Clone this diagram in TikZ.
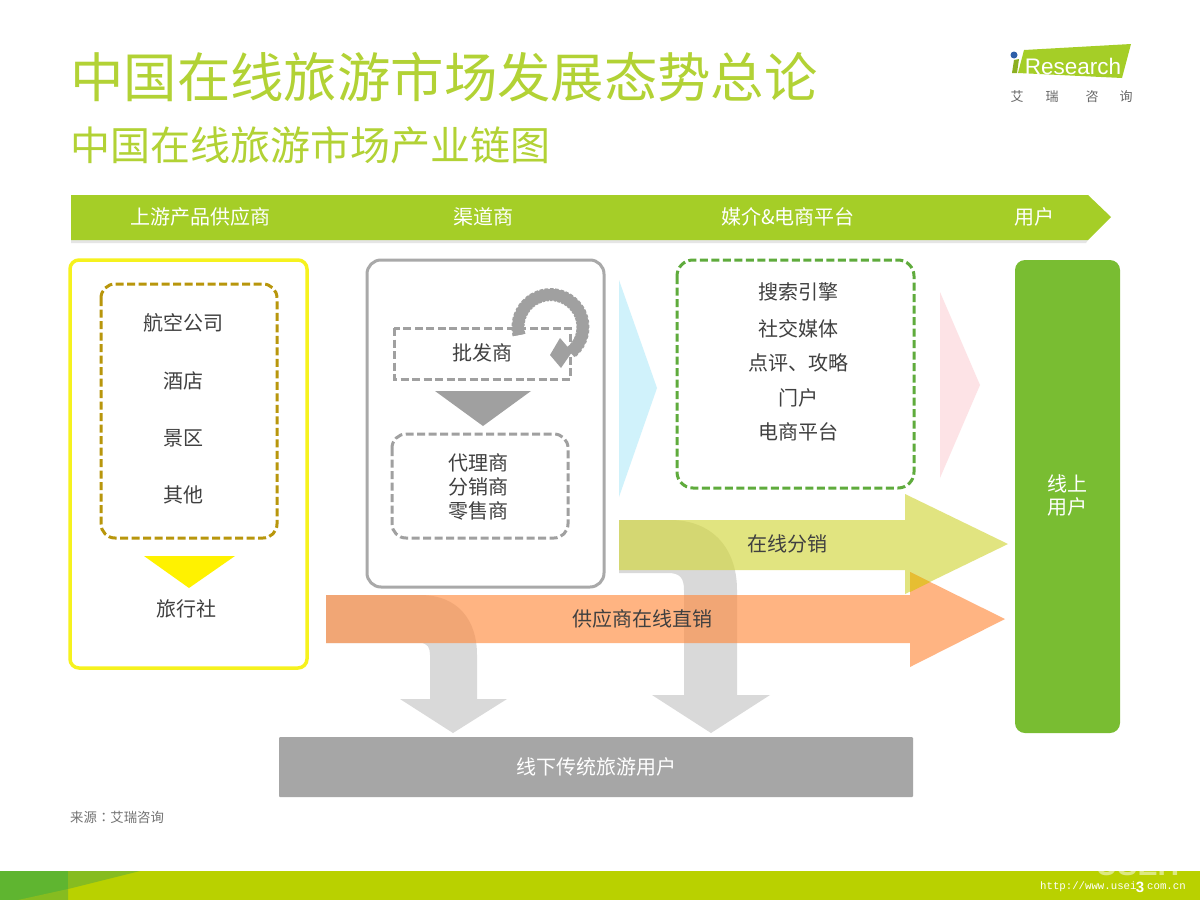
\documentclass[tikz,border=0pt]{standalone}
\usepackage{fontspec}
\setmainfont{Noto Sans CJK SC}
\newfontfamily\tcfont{Noto Sans CJK TC}
\newfontfamily\latinfont{Liberation Sans}
\newfontfamily\monofont{Liberation Mono}
\definecolor{titlegreen}{HTML}{B2D235}
\definecolor{barcol}{HTML}{A5CE27}
\definecolor{usergreen}{HTML}{79BD32}
\definecolor{bandcol}{HTML}{B9D100}
\definecolor{banddark}{HTML}{5FB530}
\definecolor{bandmid}{HTML}{86BC20}
\definecolor{txt}{HTML}{404040}
\definecolor{boxgray}{HTML}{A9A9A9}
\definecolor{dashgray}{HTML}{A0A0A0}
\definecolor{ylw}{HTML}{F6F21E}
\definecolor{gold}{HTML}{B8960C}
\definecolor{dgreen}{HTML}{5FAB3C}
\definecolor{arrowgray}{HTML}{D9D9D9}
\definecolor{arrowyellow}{RGB}{210,214,60}
\definecolor{arroworange}{RGB}{255,140,64}
\definecolor{lightcyan}{HTML}{D0F2FB}
\definecolor{lightpink}{HTML}{FDE3E6}
\definecolor{logoblue}{HTML}{2F5FA8}
\definecolor{overlapgold}{HTML}{E6BE32}
\tikzset{
 fs/.style={font=\fontsize{#1}{#1}\selectfont},
 lab/.style={fs=20,text=txt,inner sep=0pt,align=center},
 wlab/.style={fs=20,text=white,inner sep=0pt,align=center},
 dashbox/.style={line width=3pt,dash pattern=on 8pt off 3.5pt},
}
\begin{document}
\begin{tikzpicture}[x=1pt,y=-1pt]
\useasboundingbox (0,0) rectangle (1200,900);
\fill[white] (0,0) rectangle (1200,900);
% title
\node[fs=53.4,text=titlegreen,anchor=west,inner sep=0pt] (title) at (70,77) {中国在线旅游市场发展态势总论};
\node[fs=40,text=titlegreen,anchor=west,inner sep=0pt] (subtitle) at (70,145) {中国在线旅游市场产业链图};
% logo
\fill[barcol] (1024,50) -- (1131,44) -- (1122,78) -- (1018,73) -- cycle;
\fill[barcol!85!black] (1012,73) -- (1014,60) -- (1019,59) -- (1017,73) -- cycle;
\fill[logoblue] (1014,55) circle (3.5);
\node[text=white,inner sep=0pt,font=\latinfont\fontsize{22.5}{22.5}\selectfont] (logotext) at (1073,66) {Research};
\foreach \n/\x/\t in {la/1017/艾,lb/1052/瑞,lc/1092/咨,ld/1126/询}
  \node[fs=13,text=txt!80,inner sep=0pt] (\n) at (\x,97) {\t};
% header bar
\fill[black!10] (71,240) -- (1088,240) -- (1086,243) -- (71,243) -- cycle;
\fill[barcol] (71,195) -- (1088,195) -- (1111,217) -- (1088,240) -- (71,240) -- cycle;
\node[wlab] (h1) at (200,217) {上游产品供应商};
\node[wlab] (h2) at (483,217) {渠道商};
\node[wlab] (h3) at (788,217) {媒介\&电商平台};
\node[wlab] (h4) at (1034,217) {用户};
% left box
\draw[ylw,line width=3.5pt,rounded corners=9pt,fill=white] (70,260) rectangle (307,668);
\draw[gold,dashbox,rounded corners=14pt] (101,284) rectangle (277,538);
\node[lab] (a1) at (183,323) {航空公司};
\node[lab] (a2) at (183,381) {酒店};
\node[lab] (a3) at (183,438) {景区};
\node[lab] (a4) at (183,495) {其他};
\fill[yellow] (144,556) -- (235,556) -- (189,588) -- cycle;
\node[lab] (a5) at (186,609) {旅行社};
% middle box
\draw[boxgray,line width=3pt,rounded corners=14pt] (367,260) rectangle (604,587);
\draw[dashgray,dashbox] (394,328) rectangle (570,379);
\node[lab] (b1) at (482,353) {批发商};
\fill[dashgray] (435,391) -- (531,391) -- (483,426) -- cycle;
\draw[dashgray,dashbox,rounded corners=14pt] (392,434) rectangle (568,538);
\node[lab] (b2) at (478,463) {代理商};
\node[lab] (b3) at (478,487) {分销商};
\node[lab] (b4) at (478,511) {零售商};
% circular arrow
\draw[dashgray,line width=11.5pt] (519,335) arc[start angle=194,end angle=-52,radius=32.5pt];
\draw[dashgray,line width=13pt,dash pattern=on 3pt off 1.5pt] (519,335) arc[start angle=194,end angle=-52,radius=32.5pt];
\fill[dashgray] (560,338) -- (572,352) -- (561,368) -- (550,355) -- cycle;
% triangles
\fill[lightcyan] (619,280) -- (657,388) -- (619,497) -- cycle;
\fill[lightpink] (940,292) -- (980,385) -- (940,478) -- cycle;
% media box
\draw[dgreen,dashbox,rounded corners=16pt] (677,260) rectangle (914,488);
\node[lab] (c1) at (798,292) {搜索引擎};
\node[lab] (c2) at (798,329) {社交媒体};
\node[lab] (c3) at (798,363) {点评、攻略};
\node[lab] (c4) at (798,398) {门户};
\node[lab] (c5) at (798,432) {电商平台};
% online user
\fill[usergreen,rounded corners=10pt] (1015,260) rectangle (1120,733);
\node[wlab] (d1) at (1067,484) {线上};
\node[wlab] (d2) at (1067,507) {用户};
% gray arrows
\fill[arrowgray] (619,520) -- (670,520) .. controls (712,520) and (737,548) .. (737,590) -- (737,695) -- (770,695) -- (711,733) -- (652,695) -- (684,695) -- (684,590) .. controls (684,578) and (680,573) .. (668,573) -- (619,573) -- cycle;
\fill[arrowgray] (326,595) -- (420,595) .. controls (458,595) and (477,620) .. (477,655) -- (477,699) -- (507,699) -- (453,733) -- (400,699) -- (430,699) -- (430,655) .. controls (430,648) and (428,643) .. (420,643) -- (326,643) -- cycle;
% colored arrows
\fill[arrowyellow,opacity=.65] (619,520) -- (905,520) -- (905,494) -- (1008,544) -- (905,594) -- (905,570) -- (619,570) -- cycle;
\fill[arroworange,opacity=.65] (326,595) -- (910,595) -- (910,572) -- (1005,619) -- (910,667) -- (910,643) -- (326,643) -- cycle;
\fill[overlapgold] (910,572) -- (930,582) -- (910,592) -- cycle;
\node[lab] (e1) at (787,544) {在线分销};
\node[lab] (e2) at (642,619) {供应商在线直销};
% offline bar
\fill[black!35,rounded corners=1pt] (279,737) rectangle (913,797);
\node[wlab] (f1) at (596,767) {线下传统旅游用户};
% source
\node[fs=13.4,text=black!55,anchor=west,inner sep=0pt] (src) at (70,817) {来源{\tcfont ：}艾瑞咨询};
% band
\fill[bandcol] (0,871) rectangle (1200,900);
\fill[banddark] (0,871) rectangle (68,900);
\fill[bandmid] (68,871) -- (140,871) -- (68,889) -- cycle;
\fill[bandmid] (18,900) -- (68,889) -- (68,900) -- cycle;
\begin{scope}
\clip (1090,871) rectangle (1200,876);
\node[text=white,opacity=.5,inner sep=0pt,font=\latinfont\bfseries\fontsize{30}{30}\selectfont,anchor=base] (wm) at (1140,875) {USEIT};
\end{scope}
\node[text=white,inner sep=0pt,anchor=base west,font=\monofont\fontsize{10.7}{10.7}\selectfont] (url) at (1040,889) {http://www.usei};
\node[text=white,inner sep=0pt,anchor=base west,font=\monofont\fontsize{10.7}{10.7}\selectfont] (urlb) at (1147,889) {com.cn};
\node[text=white,inner sep=0pt,font=\latinfont\bfseries\fontsize{15}{15}\selectfont] (pg) at (1140,887) {3};
\end{tikzpicture}
\end{document}
